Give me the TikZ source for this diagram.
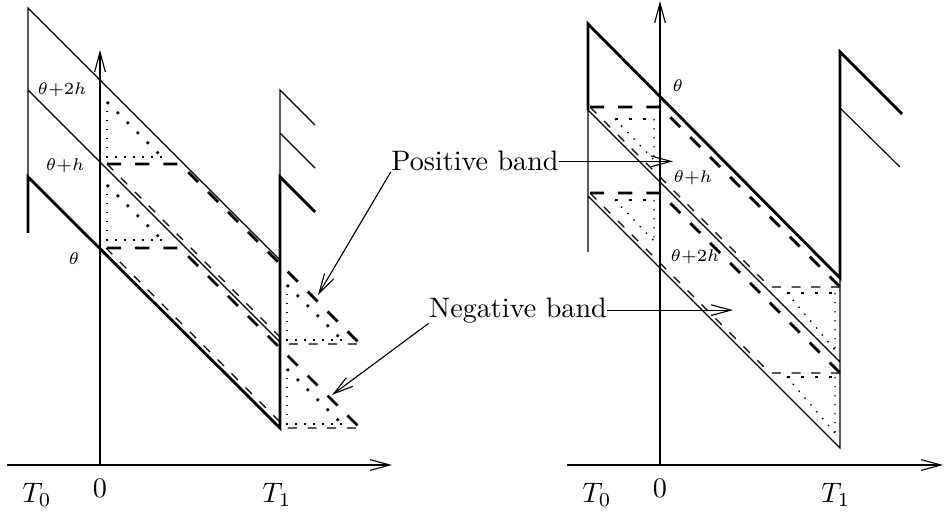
\documentclass[tikz,border=0pt]{standalone}
\usetikzlibrary{arrows.meta}
\tikzset{
  thk/.style={line width=1pt},
  thkdash/.style={line width=1pt, dash pattern=on 5pt off 5pt},
  thndash/.style={dash pattern=on 3.2pt off 3.8pt},
  finedot/.style={line width=0.5pt, dash pattern=on 0.5pt off 2.7pt},
  bigdot/.style={line width=0.9pt, dash pattern=on 0.9pt off 4.1pt},
  barb/.style={-{Straight Barb[length=7pt,width=3.8pt]}},
  lbl/.style={inner sep=0pt},
  small lbl/.style={inner sep=0pt, font=\fontsize{6.4}{7}\selectfont},
}
\begin{document}
\begin{tikzpicture}[x=0.355pt,y=-0.355pt]
\useasboundingbox (0,0) rectangle (944,516);
\path
(673,163) coordinate (pt1)
(318,295) coordinate (pt2)
(733,307) coordinate (nt1)
(332,395) coordinate (nt2)
;
% left picture
\draw[barb] (7,465)--(392,465);
\draw[barb] (100,465)--(100,50);
\draw (28,177)--(28,8)--(280,260) (28,90)--(280,342) (280,177)--(280,90)--(315,125) (280,133)--(315,168);
\draw[thk] (28,233)--(28,177)--(280,428)--(280,177)--(315,212);
\draw[thkdash] (107,164)--(180,164)--(360,344) (107,248)--(180,248)--(360,428);
\draw[thndash] (107,164)--(287,344)--(360,344) (106,248)--(286,428)--(360,428);
\foreach \x/\y in {107/102, 107/185, 287/285, 287/369} {
\draw[finedot] (\x,\y)--(\x,\y+55)--(\x+55,\y+55);
\draw[bigdot] (\x,\y)--(\x+55,\y+55);
}
\node[small lbl,anchor=east] (l2h) at (87,90) {$\theta{+}2h$};
\node[small lbl,anchor=east] (l1h) at (85,166) {$\theta{+}h$};
\node[small lbl] (l0h) at (74,259) {$\theta$};
\node[anchor=base] (lt0) at (37,502) {$T_0$};
\node[anchor=base] (lzero) at (100,497) {$0$};
\node[anchor=base] (lt1) at (277,502) {$T_1$};

% right picture
\draw[barb] (567,465)--(943,465);
\draw[barb] (660,465)--(660,1);
\draw (588,110)--(588,252) (588,110)--(840,362) (588,196)--(840,448)--(840,278) (840,108)--(900,167);
\draw[thk] (588,110)--(588,24)--(840,278)--(840,52)--(902,114);
\draw[thkdash] (590,107)--(660,107)--(840,287) (590,193)--(660,193)--(840,373);
\draw[thndash] (590,107)--(770,287)--(840,287) (590,193)--(770,373)--(840,373);
\foreach \x/\y/\w/\h in {615/119/39/41, 615/200/39/41, 787/293/48/57, 787/377/48/56} {
\draw[bigdot] (\x,\y)--(\x+\w,\y);
\draw[finedot] (\x+\w,\y)--(\x+\w,\y+\h) (\x,\y)--(\x+\w,\y+\h);
}
\node[small lbl,anchor=west] (r0h) at (672,86) {$\theta$};
\node[small lbl,anchor=west] (r1h) at (673,178) {$\theta{+}h$};
\node[small lbl,anchor=west] (r2h) at (670,257) {$\theta{+}2h$};
\node[anchor=base] (rt0) at (597,502) {$T_0$};
\node[anchor=base] (rzero) at (660,497) {$0$};
\node[anchor=base] (rt1) at (836,502) {$T_1$};

% bands
\node[lbl,anchor=base] (pos) at (475,171) {Positive band};
\node[lbl,anchor=base] (neg) at (518,317) {Negative band};
\draw[barb] (pos.east) -- (pos.east -| pt1);
\draw[barb] (pos.south west) -- (pt2);
\draw[barb] (neg.east) -- (neg.east -| nt1);
\draw[barb] (neg.south west) -- (nt2);
\end{tikzpicture}
\end{document}
